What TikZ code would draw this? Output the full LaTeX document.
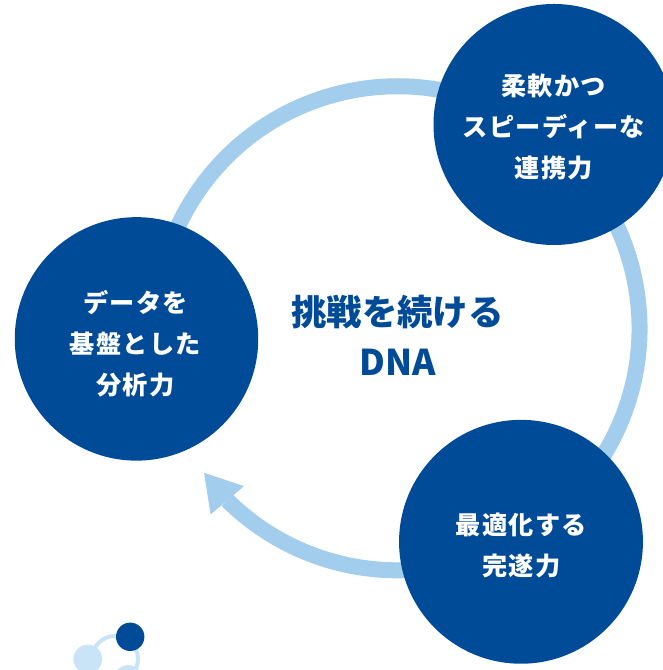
\documentclass[tikz,border=0pt]{standalone}
\usepackage{fontspec}
\newfontfamily\jp{Noto Sans CJK JP}
\newfontfamily\jpls{Noto Sans CJK JP}[LetterSpace=5]
\usetikzlibrary{calc}
\definecolor{navy}{HTML}{004B98}
\definecolor{ringblue}{HTML}{A3CDED}
\definecolor{paleblue}{HTML}{C9E3F7}
\begin{document}
\begin{tikzpicture}[x=0.75pt,y=0.75pt,
  bubble/.style={circle, fill=navy, draw=none, inner sep=0pt},
  bubbletext/.style={text=white, align=center, inner sep=0pt,
    font=\jpls\bfseries\fontsize{18.9pt}{30.75pt}\selectfont},
  centertext/.style={text=navy, align=center, inner sep=0pt,
    font=\jp\bfseries\fontsize{26.6pt}{36.9pt}\selectfont},
  ring/.style={draw=ringblue, line width=12pt}]
\useasboundingbox (0,0) rectangle (662,670);
% main cycle ring
\coordinate (O) at (397.5,341.7);
\draw[ring] ($(O)+(190:242)$) arc[start angle=190, end angle=-134.7, radius=242] coordinate (E);
\fill[ringblue] ($(E)+(-23.3,27.5)$) -- ($(E)+(16.7,14.2)$) -- ($(E)+(-16.7,-14.2)$) -- cycle;
% bubbles
\node[bubble, minimum size=182.6pt] (L) at (136.5,331.1) {};
\node[bubble, minimum size=180.75pt] (TR) at (554,545.5) {};
\node[bubble, minimum size=182.9pt] (BR) at (521,128.2) {};
\node[bubbletext] (Lt) at (135.5,326.75) {データを\\基盤とした\\分析力};
\node[bubbletext] (TRt) at (553.8,543.35) {柔軟かつ\\スピーディーな\\連携力};
\node[bubbletext] (BRt) at (521.3,124.6) {最適化する\\完遂力};
\node[centertext] (C) at (397.5,334.6) {挑戦を続ける\\DNA};
% decoration
\draw[paleblue, line width=3pt] (115,11) circle[radius=23];
\fill[paleblue] (87.8,11) circle[radius=14.4];
\fill[paleblue] (128.3,-9.5) circle[radius=14.4];
\fill[navy] (130.2,33.2) circle[radius=14.2];
\end{tikzpicture}
\end{document}
